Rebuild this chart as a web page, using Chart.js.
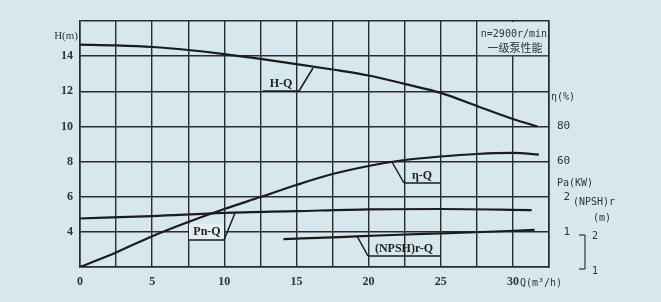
<!DOCTYPE html>
<html lang="zh">
<head>
    <meta charset="UTF-8">
    <title>一级泵性能</title>
    <script src="https://cdn.jsdelivr.net/npm/chart.js"></script>
    <style>
        body {
            margin: 0;
            background-color: #d6e7ed;
        }
        #wrap {
            width: 661px;
            height: 302px;
        }
    </style>
</head>
<body>
    <div id="wrap"><canvas id="pumpChart" width="661" height="302"></canvas></div>

    <script>
        // H-Q curve (head, m)
        const hFlow = [0, 2.5, 5, 7.5, 10, 12.5, 15, 17.5, 20, 22.5, 25, 27.5, 30, 31.7];
        const hHead = [14.66, 14.61, 14.52, 14.35, 14.12, 13.84, 13.55, 13.24, 12.9, 12.42, 11.91, 11.16, 10.42, 10.0];

        // η-Q curve (efficiency, %)
        const etaFlow = [0, 2.5, 5, 7.5, 10, 12.5, 15, 17.5, 20, 22.5, 25, 27.5, 30, 31.8];
        const etaPct = [0, 8.3, 17.5, 25.6, 33, 39.8, 46.7, 52.9, 57.5, 60.9, 62.9, 64.3, 64.9, 64.0];

        // Pa-Q curve (shaft power, kW)
        const paFlow = [0, 5, 10, 15, 20, 25, 31.3];
        const paKW = [1.38, 1.45, 1.54, 1.59, 1.64, 1.65, 1.62];

        // (NPSH)r-Q curve (m)
        const npshFlow = [14.1, 18, 21.6, 26, 31.5];
        const npshM = [1.87, 1.93, 1.99, 2.05, 2.14];

        // left axis ticks
        const headTicks = [4, 6, 8, 10, 12, 14];
        // right axis labels at the head gridlines
        const rightLabels = { 10: '80', 8: '60', 6: ' 2', 4: ' 1' };

        // all curves are drawn on the head scale
        const etaToH = v => 2 + v / 10;
        const paToH = v => 2 + v * 2;
        const npshToH = v => v * 1.92;

        const pts = (xs, ys, f) => xs.map((x, i) => ({ x: x, y: f ? f(ys[i]) : ys[i] }));

        const ink = '#1b1b1b';
        const gridInk = '#2c2c2c';
        const serif = 'Liberation Serif';
        const mono = 'DejaVu Sans Mono';

        const curve = (label, data) => ({
            label: label,
            data: data,
            borderColor: ink,
            borderWidth: 2.2,
            pointRadius: 0,
            fill: false,
            cubicInterpolationMode: 'monotone'
        });

        const notes = {
            id: 'notes',
            afterDraw(chart) {
                const ctx = chart.ctx;
                const xs = chart.scales.x;
                const ys = chart.scales.y;
                ctx.save();

                // info cell in top right corner
                const cx0 = xs.getPixelForValue(27.5), cx1 = xs.getPixelForValue(32.5);
                const cy0 = ys.getPixelForValue(16), cy1 = ys.getPixelForValue(14);
                ctx.fillStyle = '#d6e7ed';
                ctx.fillRect(cx0 + 1, cy0 + 1, cx1 - cx0 - 2, cy1 - cy0 - 2);
                ctx.fillStyle = '#333';
                ctx.textAlign = 'center';
                ctx.textBaseline = 'middle';
                ctx.font = '10px ' + mono;
                ctx.fillText('n=2900r/min', (cx0 + cx1) / 2 + 1, 34);
                ctx.font = '11px "Noto Sans CJK SC"';
                ctx.fillText('一级泵性能', (cx0 + cx1) / 2 + 2, 48);

                ctx.strokeStyle = ink;
                ctx.lineWidth = 1.5;
                const seg = (a, b, c, d) => { ctx.beginPath(); ctx.moveTo(a, b); ctx.lineTo(c, d); ctx.stroke(); };

                // curve labels with leaders
                ctx.font = 'bold 12px ' + serif;
                ctx.fillStyle = '#222';
                ctx.fillText('H-Q', 281, 84);
                seg(263, 91, 299, 91);
                seg(299, 91, 313, 68);

                ctx.fillText('η-Q', 422, 176);
                seg(392, 162, 404, 183);
                seg(404, 183, 440, 183);

                ctx.fillStyle = '#e4eef1';
                ctx.fillRect(189, 224, 35, 16);
                ctx.fillStyle = '#222';
                ctx.fillText('Pn-Q', 207, 232);
                seg(189, 240, 224, 240);
                seg(224, 240, 235, 213);

                ctx.fillText('(NPSH)r-Q', 404, 249);
                seg(357, 236, 368, 256);
                seg(368, 256, 440, 256);

                // axis captions
                ctx.font = '11px ' + serif;
                ctx.textAlign = 'right';
                ctx.fillStyle = '#333';
                ctx.fillText('H(m)', 78, 36);

                ctx.font = '10px ' + mono;
                ctx.textAlign = 'left';
                ctx.fillText('Q(m³/h)', 520, 283);
                ctx.fillText('η(%)', 551, 97);
                ctx.fillText('Pa(KW)', 557, 183);
                ctx.fillText('(NPSH)r', 573, 202);
                ctx.fillText('(m)', 593, 218);

                // NPSH bracket
                ctx.lineWidth = 1.2;
                ctx.strokeStyle = '#333';
                seg(585, 235, 585, 269);
                seg(579, 235, 585, 235);
                seg(579, 269, 585, 269);
                ctx.fillText('2', 592, 236);
                ctx.fillText('1', 592, 271);

                ctx.restore();
            }
        };

        new Chart(document.getElementById('pumpChart'), {
            type: 'line',
            data: {
                datasets: [
                    curve('H-Q', pts(hFlow, hHead)),
                    curve('η-Q', pts(etaFlow, etaPct, etaToH)),
                    curve('Pa-Q', pts(paFlow, paKW, paToH)),
                    curve('(NPSH)r-Q', pts(npshFlow, npshM, npshToH))
                ]
            },
            options: {
                responsive: false,
                animation: false,
                layout: { padding: { top: 21, left: 0, right: 0, bottom: 0 } },
                plugins: {
                    legend: { display: false },
                    tooltip: { enabled: false }
                },
                scales: {
                    x: {
                        type: 'linear',
                        min: 0,
                        max: 32.5,
                        afterFit: s => { s.height = 35; },
                        border: { color: gridInk, width: 1.6 },
                        grid: { color: gridInk, lineWidth: 1.4, drawTicks: false },
                        ticks: {
                            stepSize: 2.5,
                            autoSkip: false,
                            maxRotation: 0,
                            padding: 8,
                            color: '#333',
                            font: { family: serif, size: 12, weight: 'bold' },
                            callback: v => (v % 5 === 0 ? String(v) : '')
                        }
                    },
                    y: {
                        min: 2,
                        max: 16,
                        afterFit: s => { s.width = 80; },
                        afterBuildTicks: s => { s.ticks = [2, ...headTicks, 16].map(v => ({ value: v })); },
                        border: { color: gridInk, width: 1.6 },
                        grid: { color: gridInk, lineWidth: 1.4, drawTicks: false },
                        ticks: {
                            padding: 7,
                            color: '#333',
                            font: { family: serif, size: 12, weight: 'bold' },
                            callback: v => (headTicks.includes(v) ? String(v) : '')
                        }
                    },
                    y2: {
                        position: 'right',
                        min: 2,
                        max: 16,
                        afterFit: s => { s.width = 112; },
                        afterBuildTicks: s => { s.ticks = [4, 6, 8, 10].map(v => ({ value: v })); },
                        border: { color: gridInk, width: 1.6 },
                        grid: { display: false, drawTicks: false },
                        ticks: {
                            padding: 8,
                            color: '#333',
                            font: { family: mono, size: 11 },
                            callback: v => rightLabels[v] || ''
                        }
                    }
                }
            },
            plugins: [notes]
        });
    </script>
</body>
</html>
